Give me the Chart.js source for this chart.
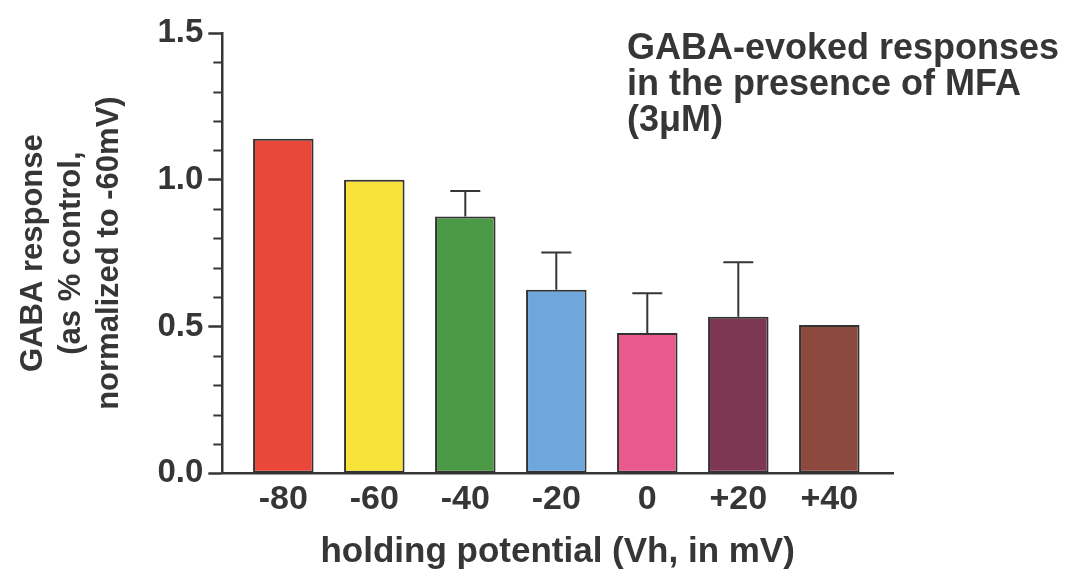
<!DOCTYPE html>
<html>
<head>
<meta charset="utf-8">
<script src="https://cdn.jsdelivr.net/npm/chart.js@4"></script>
<style>
  html, body { margin: 0; padding: 0; background: #fff; }
  #wrap { width: 1071px; height: 577px; }
</style>
</head>
<body>
<div id="wrap"><canvas id="gabaChart" width="1071" height="577"></canvas></div>
<script>
// holding potentials (x categories)
const potentials = ["-80", "-60", "-40", "-20", "0", "+20", "+40"];
// normalized GABA response
const responses = [1.14, 1.00, 0.875, 0.625, 0.478, 0.533, 0.505];
// upper error (SEM), 0 where no bar is drawn
const errors = [0, 0, 0.087, 0.127, 0.135, 0.186, 0];
const barColors = ["#e8473a", "#f8e33a", "#4c9a45", "#6ea7dc", "#e9598b", "#7e3752", "#8c4a3e"];
const yMajorTicks = [0, 0.5, 1.0, 1.5];
const titleLines = ["GABA-evoked responses", "in the presence of MFA", "(3\u03bcM)"];

const ink = "#363636";
const fontFam = "'Liberation Sans', Arial, Helvetica, sans-serif";

// upper error bars with caps
const errorBarPlugin = {
  id: "errorBars",
  afterDatasetsDraw(chart) {
    const ctx = chart.ctx;
    const yScale = chart.scales.y;
    const meta = chart.getDatasetMeta(0);
    ctx.save();
    ctx.strokeStyle = ink;
    ctx.lineWidth = 2;
    meta.data.forEach((bar, i) => {
      if (!errors[i]) return;
      const yTop = yScale.getPixelForValue(responses[i] + errors[i]);
      ctx.beginPath();
      ctx.moveTo(bar.x, bar.y);
      ctx.lineTo(bar.x, yTop);
      ctx.moveTo(bar.x - 15, yTop);
      ctx.lineTo(bar.x + 15, yTop);
      ctx.stroke();
    });
    ctx.restore();
  }
};

// minor ticks on the y axis every 0.1
const minorTickPlugin = {
  id: "minorTicks",
  afterDraw(chart) {
    const ctx = chart.ctx;
    const y = chart.scales.y;
    const x0 = chart.chartArea.left;
    ctx.save();
    ctx.strokeStyle = ink;
    ctx.lineWidth = 2;
    for (let k = 1; k < 15; k++) {
      if (k % 5 === 0) continue;
      const py = Math.round(y.getPixelForValue(k / 10)) + 0.5;
      ctx.beginPath();
      ctx.moveTo(x0 - 9, py);
      ctx.lineTo(x0, py);
      ctx.stroke();
    }
    ctx.restore();
  }
};

// text block at the top right
const noteTextPlugin = {
  id: "noteText",
  afterDraw(chart) {
    const ctx = chart.ctx;
    ctx.save();
    ctx.fillStyle = ink;
    ctx.font = "bold 36px " + fontFam;
    ctx.textAlign = "left";
    ctx.textBaseline = "alphabetic";
    titleLines.forEach((line, i) => {
      ctx.fillText(line, 627, 59 + i * 36);
    });
    ctx.restore();
  }
};

const ctx = document.getElementById("gabaChart");
new Chart(ctx, {
  type: "bar",
  data: {
    datasets: [{
      data: responses.map((v, i) => ({ x: i, y: v })),
      backgroundColor: barColors,
      borderColor: "#333333",
      borderWidth: 2,
      borderSkipped: false,
      barPercentage: 0.665,
      categoryPercentage: 1.0
    }]
  },
  options: {
    responsive: false,
    animation: false,
    layout: { padding: { left: 15, right: 178, top: 33, bottom: 4 } },
    plugins: {
      legend: { display: false },
      tooltip: { enabled: false }
    },
    scales: {
      x: {
        type: "linear",
        offset: false,
        min: -0.67,
        max: 6.70,
        grid: { display: false, drawTicks: false },
        border: { display: true, color: ink, width: 2.5 },
        ticks: {
          stepSize: 1,
          includeBounds: false,
          autoSkip: false,
          maxRotation: 0,
          padding: 6,
          color: ink,
          font: { family: fontFam, size: 34, weight: "bold" },
          callback: (v) => {
            const i = Math.round(v);
            return (Math.abs(v - i) < 1e-6 && i >= 0 && i < potentials.length) ? potentials[i] : "";
          }
        },
        title: {
          display: true,
          text: "holding potential (Vh, in mV)",
          color: ink,
          font: { family: fontFam, size: 35, weight: "bold" },
          padding: { top: 5, bottom: 0 }
        }
      },
      y: {
        min: 0,
        max: 1.5,
        afterBuildTicks: (scale) => {
          scale.ticks = yMajorTicks.map(v => ({ value: v }));
        },
        grid: { drawOnChartArea: false, drawTicks: true, tickLength: 14, tickWidth: 2.5, tickColor: ink },
        border: { display: true, color: ink, width: 2.5 },
        ticks: {
          padding: 5,
          color: ink,
          font: { family: fontFam, size: 33, weight: "bold" },
          callback: (v) => Number(v).toFixed(1)
        },
        title: {
          display: true,
          text: ["GABA response", "(as % control,", "normalized to -60mV)"],
          color: ink,
          font: { family: fontFam, size: 31, weight: "bold", lineHeight: 1.22 },
          padding: { top: 0, bottom: 24 }
        }
      }
    }
  },
  plugins: [errorBarPlugin, minorTickPlugin, noteTextPlugin]
});
</script>
</body>
</html>
